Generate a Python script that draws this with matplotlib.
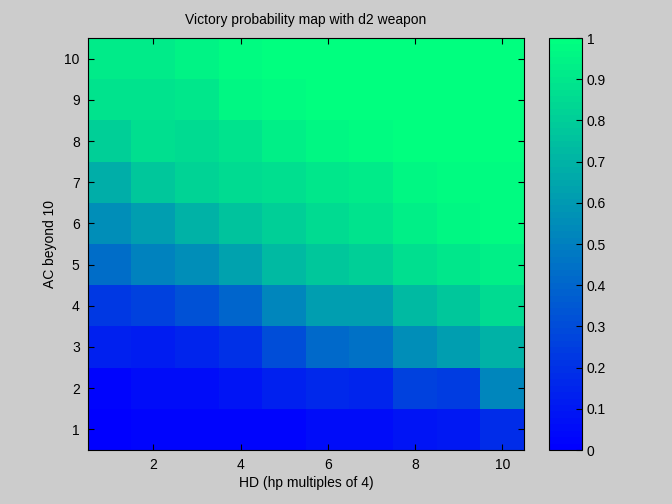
import numpy as np
import matplotlib
matplotlib.use("Agg")
import matplotlib.pyplot as plt
from matplotlib.colors import ListedColormap

plt.rcParams['font.family'] = ['Liberation Sans', 'DejaVu Sans']

hd = list(range(1, 11))
ac = list(range(1, 11))
# rows: AC 1..10, columns: HD 1..10
ac1 = [0.00, 0.02, 0.02, 0.02, 0.03, 0.05, 0.05, 0.08, 0.10, 0.18]
ac2 = [0.03, 0.06, 0.06, 0.08, 0.13, 0.16, 0.15, 0.25, 0.24, 0.52]
ac3 = [0.13, 0.12, 0.15, 0.20, 0.30, 0.42, 0.45, 0.55, 0.62, 0.70]
ac4 = [0.22, 0.26, 0.32, 0.40, 0.53, 0.62, 0.62, 0.72, 0.78, 0.85]
ac5 = [0.43, 0.50, 0.56, 0.63, 0.72, 0.78, 0.80, 0.87, 0.90, 0.93]
ac6 = [0.56, 0.62, 0.70, 0.75, 0.81, 0.85, 0.89, 0.93, 0.96, 0.98]
ac7 = [0.68, 0.77, 0.82, 0.85, 0.86, 0.90, 0.92, 0.96, 0.97, 0.98]
ac8 = [0.80, 0.86, 0.85, 0.88, 0.93, 0.96, 0.97, 0.99, 1.00, 1.00]
ac9 = [0.89, 0.88, 0.90, 0.96, 0.97, 0.99, 0.99, 1.00, 1.00, 1.00]
ac10 = [0.92, 0.92, 0.94, 0.97, 0.99, 0.99, 1.00, 1.00, 1.00, 1.00]
Z = np.array([ac1, ac2, ac3, ac4, ac5, ac6, ac7, ac8, ac9, ac10])

cmap = ListedColormap(plt.get_cmap('winter')(np.linspace(0, 1, 64)))

bg = '#cccccc'
fig = plt.figure(figsize=(6.72, 5.04), dpi=100, facecolor=bg)
ax = fig.add_axes([88/672, 1-450/504, (524-88)/672, (450-38)/504])
cax = fig.add_axes([549/672, 1-450/504, (582-549)/672, (450-38)/504])

im = ax.imshow(Z, cmap=cmap, vmin=0, vmax=1, origin='lower', aspect='auto',
               extent=[0.5, 10.5, 0.5, 10.5], interpolation='nearest')
ax.set_xticks([2, 4, 6, 8, 10])
ax.set_yticks(ac)
ax.tick_params(direction='in', top=True, right=True, labelsize=10, length=4, width=0.8, pad=6)
ax.set_xlabel('HD (hp multiples of 4)', fontsize=10, labelpad=3)
ax.set_ylabel('AC beyond 10', fontsize=10, labelpad=5)
ax.set_title('Victory probability map with d2 weapon', fontsize=10, pad=10)

cb = fig.colorbar(im, cax=cax)
cb.set_ticks(np.round(np.arange(0, 1.01, 0.1), 1))
cb.set_ticklabels(['0', '0.1', '0.2', '0.3', '0.4', '0.5', '0.6', '0.7', '0.8', '0.9', '1'])
cax.tick_params(direction='in', labelsize=10, length=4, width=0.8)

fig.savefig('out.png', dpi=100, facecolor=bg)
